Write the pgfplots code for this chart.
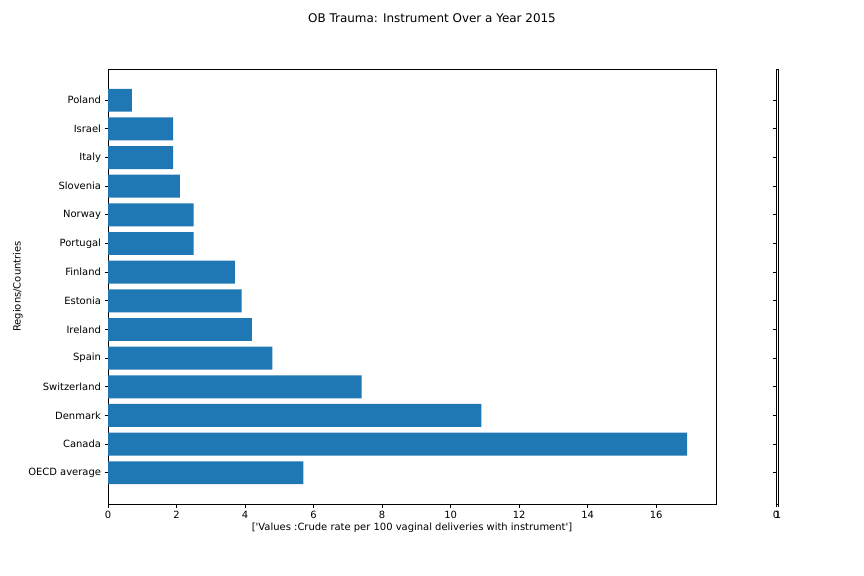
\documentclass[border=0pt]{standalone}
\usepackage{pgfplots}
\pgfplotsset{compat=1.18}
\usepackage{fontspec}
\setmainfont{DejaVu Sans}
\definecolor{mplblue}{HTML}{1F77B4}
\begin{document}
\begin{tikzpicture}
\useasboundingbox (0,0) rectangle (864bp,576bp);
\pgfplotsset{
  every axis/.append style={
    /pgf/number format/assume math mode=true,
    font=\fontsize{10}{12}\selectfont,
    tick label style={font=\fontsize{10}{12}\selectfont},
    axis line style={line width=0.8bp},
    tick style={line width=0.8bp, black},
    major tick length=3.5bp,
    tick align=outside,
    xtick pos=bottom, ytick pos=left,
    scale only axis,
  }
}
\begin{axis}[
  at={(108bp,72bp)}, anchor=south west,
  width=608bp, height=435bp,
  xmin=0, xmax=17.745,
  ymin=-1.09, ymax=14.09,
  xtick={0,2,...,16},
  ytick={0,...,13},
  yticklabels={OECD average, Canada, Denmark, Switzerland, Spain, Ireland, Estonia, Finland, Portugal, Norway, Slovenia, Italy, Israel, Poland},
  xbar, bar width=0.8, bar shift=0pt,
  xlabel={[\textquotesingle Values :Crude rate per 100 vaginal deliveries with instrument\textquotesingle]},
  ylabel={Regions/Countries},
  every axis x label/.style={at={(axis description cs:0.5,0)}, yshift=-24bp, anchor=center},
  every axis y label/.style={at={(axis description cs:0,0.5)}, xshift=-90bp, rotate=90, anchor=center},
]
\addplot[fill=mplblue, draw=none] coordinates {
(5.7,0) (16.9,1) (10.9,2) (7.4,3) (4.8,4) (4.2,5) (3.9,6) (3.7,7) (2.5,8) (2.5,9) (2.1,10) (1.9,11) (1.9,12) (0.7,13)
};
\end{axis}
\begin{axis}[
  at={(776bp,72bp)}, anchor=south west,
  width=2bp, height=435bp,
  xmin=0, xmax=1, xtick={0,1},
  ymin=-1.09, ymax=14.09,
  ytick={0,...,13}, yticklabels={},
]
\end{axis}
\node[font=\fontsize{12}{14}\selectfont] at (432bp,558bp) {OB Trauma: Instrument Over a Year 2015};
\end{tikzpicture}
\end{document}
